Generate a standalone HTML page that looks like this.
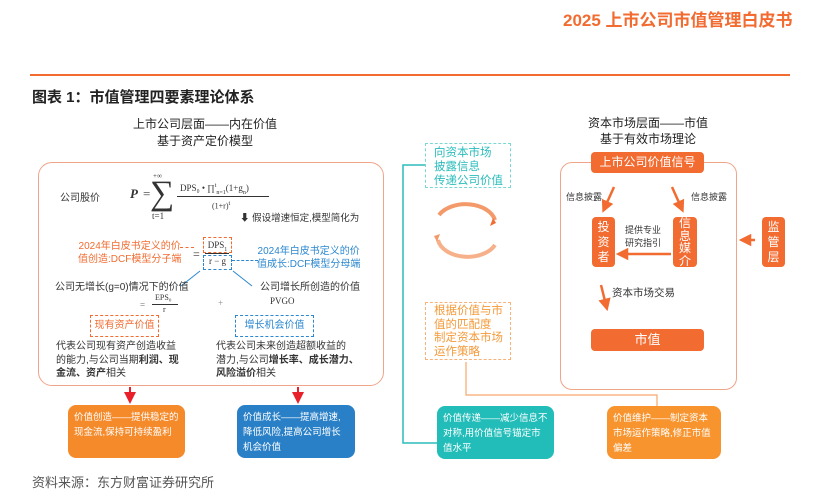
<!DOCTYPE html>
<html><head><meta charset="utf-8"><style>
body{margin:0;width:814px;height:499px;background:#fff;position:relative;overflow:hidden;font-family:"Liberation Sans","Noto Sans CJK SC",sans-serif;color:#333}
.a{position:absolute;white-space:nowrap}
.s{font-family:"Liberation Serif","Noto Serif CJK SC",serif}
.ob{background:#f26b30;color:#fff;border-radius:4px;text-align:center;font-size:12px}
.vb{display:flex;flex-direction:column;align-items:center;justify-content:center;font-size:12px;line-height:12.5px}
.bot{position:absolute;border-radius:8px;color:#fff;font-size:9.5px;line-height:15px;padding:5px 6px;box-sizing:border-box;white-space:normal;word-break:break-all}
</style></head><body>
<div class="a" style="left:563px;top:6px;font-size:17px;font-weight:bold;color:#f26b30">2025 上市公司市值管理白皮书</div>
<div class="a" style="left:30px;top:74px;width:760px;height:2px;background:#f26b30"></div>
<div class="a" style="left:32px;top:86px;font-size:15px;font-weight:bold;color:#222">图表 1：市值管理四要素理论体系</div>

<div class="a" style="left:130px;top:116px;width:150px;text-align:center;font-size:12px;line-height:17px;color:#222">上市公司层面——内在价值<br>基于资产定价模型</div>
<div class="a" style="left:38px;top:162px;width:346px;height:224px;border:1.5px solid #f0a58a;border-radius:14px;box-sizing:border-box"></div>
<div class="a" style="left:60px;top:189px;font-size:10px">公司股价</div>
<div class="a s" style="left:130px;top:186px;font-size:13px;font-style:italic;font-weight:bold">P</div>
<div class="a s" style="left:143px;top:186px;font-size:13px">=</div>
<div class="a s" style="left:153px;top:172px;font-size:7px">+∞</div>
<div class="a s" style="left:150px;top:174px;font-size:34px;line-height:40px">∑</div>
<div class="a s" style="left:152px;top:211px;font-size:9px">t=1</div>
<div class="a s" style="left:180px;top:183px;font-size:9px">DPS₀ • ∏<sup style="font-size:6px">t</sup><sub style="font-size:6px">n=1</sub>(1+g<sub style="font-size:6px">n</sub>)</div>
<div class="a" style="left:177px;top:196px;width:92px;height:1px;background:#333"></div>
<div class="a s" style="left:212px;top:201px;font-size:8px">(1+r)<sup style="font-size:6px">t</sup></div>
<div class="a" style="left:240px;top:210px;font-size:9.5px">⬇ 假设增速恒定,模型简化为</div>
<div class="a" style="left:78px;top:240px;font-size:10px;line-height:13px;color:#f26b30;text-align:center">2024年白皮书定义的价<br>值创造:DCF模型分子端</div>
<div class="a" style="left:180px;top:247px;width:14px;border-top:1px dashed #f26b30"></div>
<div class="a s" style="left:193px;top:247px;font-size:12px">=</div>
<div class="a s" style="left:203px;top:237px;width:27px;height:14px;border:1px dashed #f26b30;font-size:9px;text-align:center;line-height:14px">DPS<sub style="font-size:6px">1</sub></div>
<div class="a" style="left:205px;top:253px;width:24px;height:1px;background:#333"></div>
<div class="a s" style="left:203px;top:255px;width:27px;height:13px;border:1px dashed #2b87d0;font-size:9px;text-align:center;line-height:11px">r − g</div>
<div class="a" style="left:232px;top:260px;width:26px;border-top:1px dashed #2b87d0"></div>
<div class="a" style="left:257px;top:245px;font-size:10px;line-height:13px;color:#2b87d0;text-align:center">2024年白皮书定义的价<br>值成长:DCF模型分母端</div>
<svg class="a" style="left:0;top:0" width="814" height="499"><line x1="200" y1="271" x2="181" y2="286" stroke="#2b87d0"/><line x1="233" y1="271" x2="252" y2="286" stroke="#2b87d0"/></svg>
<div class="a" style="left:55px;top:278px;font-size:10px">公司无增长(g=0)情况下的价值</div>
<div class="a" style="left:260px;top:278px;font-size:10px">公司增长所创造的价值</div>
<div class="a s" style="left:140px;top:300px;font-size:9px;color:#666">=</div>
<div class="a s" style="left:155px;top:293px;font-size:8px">EPS₀</div>
<div class="a" style="left:152px;top:304px;width:26px;height:1px;background:#333"></div>
<div class="a s" style="left:163px;top:305px;font-size:8px">r</div>
<div class="a s" style="left:218px;top:298px;font-size:9px;color:#888">+</div>
<div class="a s" style="left:270px;top:296px;font-size:9px">PVGO</div>
<div class="a" style="left:90px;top:315px;width:67px;height:20px;border:1px dashed #f26b30;font-size:10px;color:#f26b30;text-align:center;line-height:20px">现有资产价值</div>
<div class="a" style="left:235px;top:315px;width:77px;height:20px;border:1px dashed #2b87d0;font-size:10px;color:#2b87d0;text-align:center;line-height:20px">增长机会价值</div>
<div class="a" style="left:56px;top:340px;font-size:10px;line-height:13.5px">代表公司现有资产创造收益<br>的能力,与公司当期<b>利润、现</b><br><b>金流、资产</b>相关</div>
<div class="a" style="left:216px;top:340px;font-size:10px;line-height:13.5px">代表公司未来创造超额收益的<br>潜力,与公司<b>增长率、成长潜力、</b><br><b>风险溢价</b>相关</div>

<svg class="a" style="left:0;top:0" width="814" height="499">
<defs><marker id="r" markerWidth="6" markerHeight="6" refX="3" refY="3" orient="auto"><path d="M0,0L6,3L0,6z" fill="#e8202a"/></marker>
<marker id="o" markerWidth="5" markerHeight="5" refX="2.5" refY="2.5" orient="auto"><path d="M0,0L5,2.5L0,5z" fill="#f26b30"/></marker></defs>
<line x1="130" y1="387" x2="130" y2="398" stroke="#e8202a" stroke-width="2" marker-end="url(#r)"/>
<line x1="298" y1="387" x2="298" y2="398" stroke="#e8202a" stroke-width="2" marker-end="url(#r)"/>
<polyline points="425,165 403,165 403,443 437,443" fill="none" stroke="#2bbcbc" stroke-width="1.5"/>
<polyline points="466,362 466,395 657,395 657,410" fill="none" stroke="#f7a86a" stroke-width="1.2"/>
<path d="M439,215 A30,20 0 0 1 495,220" fill="none" stroke="#f49a6a" stroke-width="4"/>
<path d="M490,226 L496,223 L493,218 z" fill="#f26b30"/>
<path d="M495,245 A30,20 0 0 1 438,240" fill="none" stroke="#f6b08a" stroke-width="4"/>
<path d="M434,236 L440,234 L437,242 z" fill="#f49a6a"/>
<line x1="614" y1="187" x2="605" y2="207" stroke="#f26b30" stroke-width="2.5" marker-end="url(#o)"/>
<line x1="672" y1="187" x2="681" y2="207" stroke="#f26b30" stroke-width="2.5" marker-end="url(#o)"/>
<line x1="671" y1="254" x2="622" y2="254" stroke="#f26b30" stroke-width="2.5" marker-end="url(#o)"/>
<line x1="601" y1="285" x2="606" y2="305" stroke="#f26b30" stroke-width="2.5" marker-end="url(#o)"/>
<line x1="755" y1="240" x2="745" y2="240" stroke="#f26b30" stroke-width="2.5" marker-end="url(#o)"/>
</svg>
<div class="a" style="left:425px;top:143px;width:86px;height:45px;border:1.5px dashed #7dd6d6;box-sizing:border-box;font-size:11.5px;line-height:14px;color:#2bbcbc;padding:2px 0 0 8px">向资本市场<br>披露信息<br>传递公司价值</div>
<div class="a" style="left:425px;top:302px;width:86px;height:58px;border:1.5px dashed #f7b27a;box-sizing:border-box;font-size:11.5px;line-height:13.5px;color:#f49a3a;padding:2px 0 0 8px">根据价值与市<br>值的匹配度<br>制定资本市场<br>运作策略</div>

<div class="a" style="left:578px;top:115px;width:140px;text-align:center;font-size:12px;line-height:16px;color:#222">资本市场层面——市值<br>基于有效市场理论</div>
<div class="a" style="left:560px;top:162px;width:177px;height:228px;border:1.5px solid #f0a58a;border-radius:12px;box-sizing:border-box"></div>
<div class="a ob" style="left:591px;top:152px;width:113px;height:21px;line-height:21px">上市公司价值信号</div>
<div class="a" style="left:566px;top:190px;font-size:9px">信息披露</div>
<div class="a" style="left:691px;top:190px;font-size:9px">信息披露</div>
<div class="a ob vb" style="left:592px;top:217px;width:23px;height:50px;line-height:15px"><span>投</span><span>资</span><span>者</span></div>
<div class="a ob vb" style="left:673px;top:217px;width:24px;height:50px"><span>信</span><span>息</span><span>媒</span><span>介</span></div>
<div class="a ob vb" style="left:762px;top:217px;width:23px;height:50px;line-height:15px"><span>监</span><span>管</span><span>层</span></div>
<div class="a" style="left:625px;top:224px;font-size:9px;line-height:13px">提供专业<br>研究指引</div>
<div class="a" style="left:612px;top:285px;font-size:10.5px">资本市场交易</div>
<div class="a ob" style="left:591px;top:329px;width:113px;height:22px;line-height:22px;font-size:13px">市值</div>

<div class="bot" style="left:68px;top:405px;width:117px;height:53px;background:#f58a2a">价值创造——提供稳定的现金流,保持可持续盈利</div>
<div class="bot" style="left:237px;top:405px;width:118px;height:53px;background:#2a80c7">价值成长——提高增速,降低风险,提高公司增长机会价值</div>
<div class="bot" style="left:437px;top:406px;width:117px;height:53px;background:#22bdb9">价值传递——减少信息不对称,用价值信号锚定市值水平</div>
<div class="bot" style="left:607px;top:406px;width:114px;height:53px;background:#f7942e">价值维护——制定资本市场运作策略,修正市值偏差</div>
<div class="a" style="left:32px;top:472px;font-size:13px;color:#555">资料来源：东方财富证券研究所</div>
</body></html>
